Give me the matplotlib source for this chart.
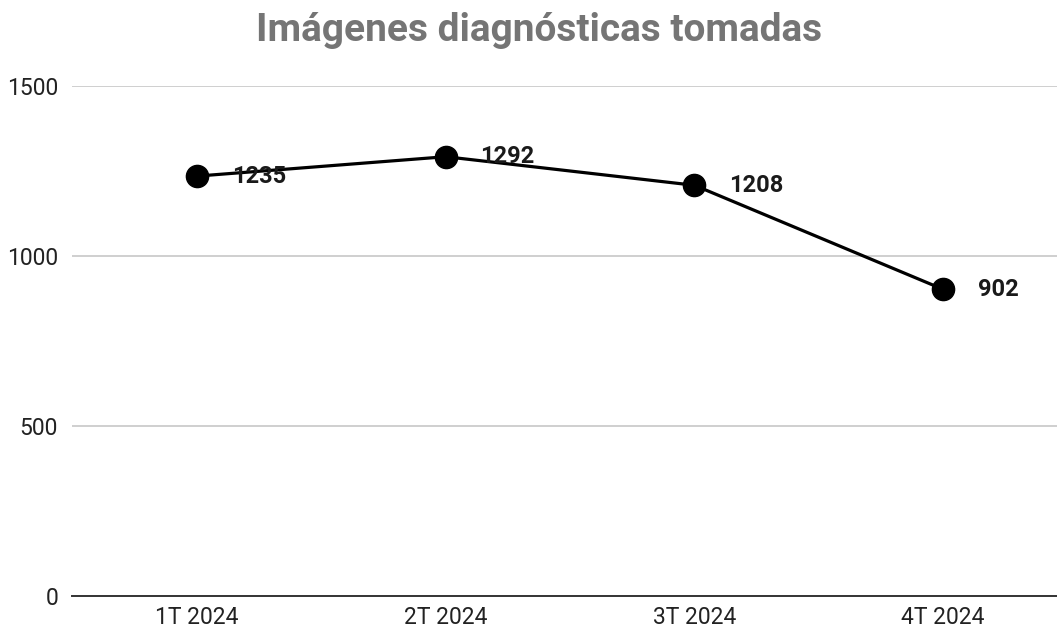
import matplotlib.pyplot as plt

plt.rcParams['font.family'] = ['Roboto', 'DejaVu Sans']

# Quarterly counts
quarters = ['1T 2024', '2T 2024', '3T 2024', '4T 2024']
imagenes = [1235, 1292, 1208, 902]
y_ticks = [0, 500, 1000, 1500]

fig = plt.figure(figsize=(10.57, 6.3), dpi=100)
ax = fig.add_axes([72 / 1057, 34 / 630, 985 / 1057, 510 / 630])

x = list(range(len(quarters)))
ax.plot(x, imagenes, color='black', lw=2.3, marker='o', markersize=16,
        zorder=3, clip_on=False)

# value labels to the right of each point
for xi, v in zip(x, imagenes):
    ax.annotate(str(v), (xi, v), xytext=(25, 0), textcoords='offset points',
                ha='left', va='center', fontsize=17, fontweight='bold',
                color='#1a1a1a', zorder=4)

ax.set_xlim(-0.503, 3.458)
ax.set_ylim(0, 1500)
ax.set_xticks(x)
ax.set_xticklabels(quarters)
ax.set_yticks(y_ticks)
ax.tick_params(axis='both', length=0, labelsize=16.5, labelcolor='#222222')
ax.tick_params(axis='y', pad=10)
ax.tick_params(axis='x', pad=7)

ax.grid(axis='y', color='#cccccc', lw=1.3)
ax.set_axisbelow(True)
for side in ['top', 'right', 'left']:
    ax.spines[side].set_visible(False)
ax.spines['bottom'].set_color('#333333')
ax.spines['bottom'].set_linewidth(1.4)

fig.text(0.51, 0.952, 'Imágenes diagnósticas tomadas', ha='center', va='center',
         fontsize=28, fontweight='bold', color='#757575')

fig.savefig('out.png', dpi=100)
